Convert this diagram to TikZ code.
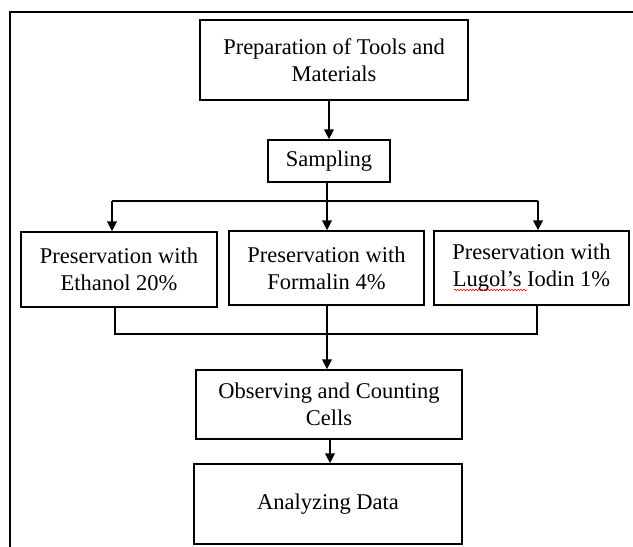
\documentclass[tikz,border=0pt]{standalone}
\usepackage{fontspec}
\setmainfont{Liberation Serif}
\usetikzlibrary{arrows.meta,decorations.pathmorphing}
\begin{document}
\begin{tikzpicture}[x=1pt,y=-1pt,
  stepbox/.style={draw,line width=1.4pt,align=center,inner sep=0pt,
    font=\fontsize{22.5}{27}\selectfont},
  conn/.style={line width=2.1pt},
  arr/.style={conn,-{Triangle[width=9.5pt,length=10pt]}}]
\useasboundingbox (0,0) rectangle (633,547);
% frame
\coordinate (fb) at (10,547);
\coordinate (ft) at (10,12);
\coordinate (fr) at (633,12);
\draw[line width=1.5pt] (fb) -- (ft) -- (fr);
% boxes
\node[stepbox,minimum width=268pt,minimum height=80pt] (prep) at (334,60) {Preparation of Tools and\\Materials};
\node[stepbox,minimum width=122pt,minimum height=42pt] (samp) at (329,161) {Sampling};
\node[stepbox,minimum width=196pt,minimum height=75pt] (eth) at (119,269.5) {Preservation with\\Ethanol 20\%};
\node[stepbox,minimum width=195pt,minimum height=74pt] (form) at (326.5,268) {Preservation with\\Formalin 4\%};
\node[stepbox,minimum width=195pt,minimum height=74pt] (lug) at (531.5,268) {Preservation with\\Lugol’s Iodin 1\%};
\node[stepbox,minimum width=266pt,minimum height=69pt] (obs) at (329,404.5) {Observing and Counting\\Cells};
\node[stepbox,minimum width=268pt,minimum height=80pt] (ana) at (328,504) {Analyzing Data};
% connectors
\coordinate (sj) at (327,201);
\coordinate (tl) at (112,201);
\coordinate (tr) at (538,201);
\coordinate (bl) at (115,334);
\coordinate (bm) at (327,334);
\coordinate (br) at (537,334);
\draw[arr] (prep.south -| samp.north) -- (samp.north);
\draw[conn] (samp.south -| sj) -- (sj);
\draw[conn] (tl) -- (tr);
\draw[arr] (tl) -- (tl |- eth.north);
\draw[arr] (sj) -- (sj |- form.north);
\draw[arr] (tr) -- (tr |- lug.north);
\draw[conn] (bl |- eth.south) -- (bl) -- (br) -- (br |- lug.south);
\draw[conn] (bm |- form.south) -- (bm);
\draw[arr] (bm) -- (bm |- obs.north);
\coordinate (oa) at (330,0);
\draw[arr] (oa |- obs.south) -- (oa |- ana.north);
% spell-check underline
\coordinate (u1) at (454,290);
\coordinate (u2) at (527,290);
\draw[red,line width=0.6pt,decorate,decoration={snake,amplitude=0.8pt,segment length=3pt}] (u1) -- (u2);
\end{tikzpicture}
\end{document}
